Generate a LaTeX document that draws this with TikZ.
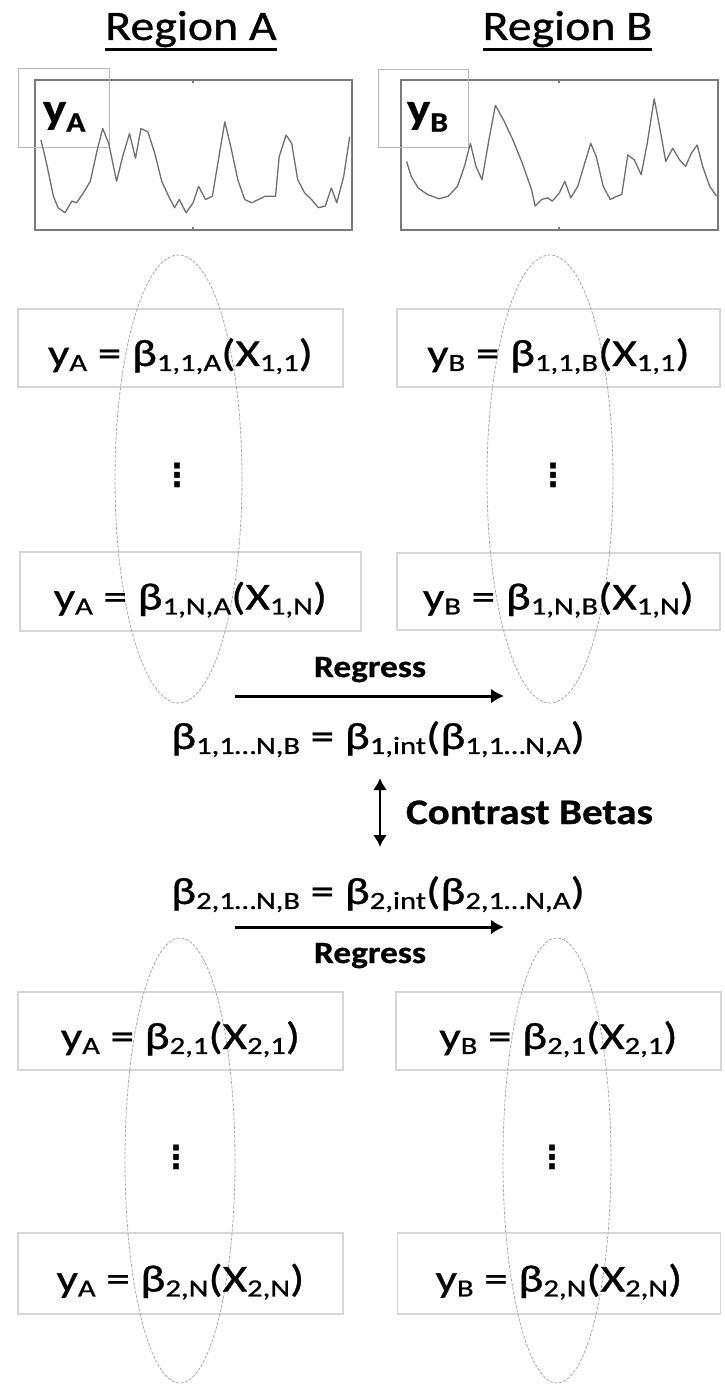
\documentclass[tikz,border=0pt]{standalone}
\usepackage{fontspec}
\usepackage{graphicx}
\setmainfont{Carlito}[FakeStretch=1.14,FakeBold=0.8]
\newfontfamily\eqfont{Carlito}[FakeStretch=1.24,FakeBold=0.8]
\newfontfamily\dotfont{DejaVu Sans}
\usetikzlibrary{arrows.meta,shapes.geometric}
\newcommand\sbs[1]{\raisebox{-0.13em}{\scalebox{0.65}{#1}}}
\definecolor{boxgray}{HTML}{D6D6D6}
\definecolor{ellgray}{HTML}{A8A8A8}
\definecolor{plotgray}{HTML}{7A7A7A}
\definecolor{curvegray}{HTML}{6E6E6E}
\definecolor{labgray}{HTML}{B8B8B8}
\begin{document}
\begin{tikzpicture}[x=1pt,y=-1pt,
  every node/.style={inner sep=0pt,outer sep=0pt},
  eqbox/.style={draw=boxgray,line width=1.2pt,rectangle},
  eqtxt/.style={anchor=base,font=\eqfont\fontsize{38}{41}\selectfont},
  ellbox/.style={draw=ellgray,line width=0.8pt,dash pattern=on 3pt off 1.5pt,ellipse},
  plotbox/.style={draw=plotgray,line width=1.5pt,rectangle},
  labbox/.style={draw=labgray,line width=0.8pt,rectangle},
  plotline/.style={draw=curvegray,line width=1.3pt,line join=round},
  regtxt/.style={anchor=base,font=\bfseries\fontsize{31}{34}\selectfont},
  headtxt/.style={anchor=base,font=\fontsize{42}{46}\selectfont},
  dotstxt/.style={font=\dotfont\bfseries\fontsize{32}{34}\selectfont},
  arr/.style={line width=3pt,-{Latex[length=13pt,width=15pt]}},
  darr/.style={line width=2.6pt,{Latex[length=12pt,width=14pt]}-{Latex[length=12pt,width=14pt]}}
]
\useasboundingbox (0,0) rectangle (725,1386);

% headings
\node[headtxt] (rA) at (191,40) {Region A};
\node[headtxt] (rB) at (567.5,40) {Region B};
\draw[line width=2.4pt] ([yshift=-9.5pt]rA.base west) -- ([yshift=-9.5pt]rA.base east);
\draw[line width=2.4pt] ([yshift=-9.5pt]rB.base west) -- ([yshift=-9.5pt]rB.base east);

% plots
\node[plotbox,minimum width=317pt,minimum height=150pt] (pA) at (193.5,155) {};
\node[plotbox,minimum width=317pt,minimum height=150pt] (pB) at (559.5,155) {};
\draw[plotgray,line width=1.5pt] (193,80) -- (193,83) (193,230) -- (193,227);
\draw[plotgray,line width=1.5pt] (559,80) -- (559,83) (559,230) -- (559,227);
\node[labbox,minimum width=91pt,minimum height=79pt] (lA) at (63.5,107.5) {};
\node[labbox,minimum width=90pt,minimum height=78pt] (lB) at (423,108) {};
\node[anchor=base west,font=\bfseries\fontsize{43}{46}\selectfont] (yA) at (43,123) {y\raisebox{-0.2em}{\scalebox{0.65}{A}}};
\node[anchor=base west,font=\bfseries\fontsize{43}{46}\selectfont] (yB) at (407,123) {y\raisebox{-0.2em}{\scalebox{0.65}{B}}};

\draw[plotline] plot coordinates {(41.0,140.1) (46.5,163.2) (53.4,196.2) (58.0,207.7) (65.0,212.7) (71.9,201.1) (76.5,202.8) (83.4,192.9) (90.3,181.3) (97.2,150.0) (102.7,128.5) (108.7,143.4) (116.6,181.3) (122.6,156.6) (129.5,133.5) (135.5,158.2) (141.0,128.5) (147.9,131.8) (154.8,153.3) (161.7,181.3) (168.6,196.2) (174.6,207.7) (179.2,199.5) (186.1,212.7) (193.1,202.8) (198.6,186.3) (205.5,199.5) (212.4,196.2) (218.4,159.9) (224.8,121.9) (230.8,146.7) (237.8,179.7) (244.7,199.5) (251.6,202.8) (258.5,199.5) (265.4,196.2) (275.5,196.2) (279.2,156.6) (286.1,135.1) (291.7,143.4) (297.7,179.7) (304.6,192.9) (311.5,199.5) (318.4,207.7) (325.3,206.1) (331.3,187.9) (336.8,202.8) (343.7,176.4) (349.7,136.8)};

\draw[plotline] plot coordinates {(406.6,161.5) (411.2,176.4) (418.1,187.9) (427.4,194.5) (439.0,198.8) (448.2,196.2) (457.5,186.3) (464.4,166.5) (470.4,143.4) (476.0,166.5) (482.0,179.7) (488.9,140.1) (495.4,105.4) (503.7,120.3) (513.0,140.1) (522.3,163.2) (531.5,189.6) (535.2,206.1) (541.7,199.5) (547.7,197.8) (552.3,201.1) (559.3,192.9) (564.8,181.3) (570.8,197.8) (577.8,186.3) (584.7,163.2) (590.7,143.4) (596.3,156.6) (603.2,186.3) (610.2,199.5) (617.1,196.2) (621.8,194.5) (627.8,154.9) (634.3,159.9) (641.2,174.7) (647.2,143.4) (654.2,98.8) (660.2,130.2) (665.7,161.5) (672.7,148.3) (679.6,159.9) (685.6,166.5) (691.2,153.3) (697.2,145.0) (702.7,166.5) (709.7,186.3) (716.6,196.2)};

% equation boxes, upper
\node[eqbox,minimum width=325pt,minimum height=78pt] (bA1) at (180.5,348) {};
\node[eqbox,minimum width=341pt,minimum height=79pt] (bAN) at (190.5,591.5) {};
\node[eqbox,minimum width=323pt,minimum height=78pt] (bB1) at (558.5,348) {};
\node[eqbox,minimum width=323pt,minimum height=77pt] (bBN) at (558.5,591.5) {};
% equation boxes, lower
\node[eqbox,minimum width=325pt,minimum height=78pt] (cA1) at (180.5,1031) {};
\node[eqbox,minimum width=325pt,minimum height=81pt] (cAN) at (180.5,1273.5) {};
\node[eqbox,minimum width=325pt,minimum height=78pt] (cB1) at (558.5,1031) {};
\node[eqbox,minimum width=323pt,minimum height=81pt] (cBN) at (559,1273.5) {};

% ellipses
\node[ellbox,minimum width=127pt,minimum height=448pt] (eA1) at (178.5,479) {};
\node[ellbox,minimum width=126pt,minimum height=448pt] (eB1) at (550,479) {};
\node[ellbox,minimum width=110pt,minimum height=445pt] (eA2) at (180,1160.5) {};
\node[ellbox,minimum width=108pt,minimum height=445pt] (eB2) at (557,1160.5) {};

% equation texts
\node[eqtxt] (tA1) at ([yshift=-18pt]bA1.center) {y\sbs{A} = β\sbs{1,1,A}(X\sbs{1,1})};
\node[eqtxt] (tAN) at ([yshift=-18pt]bAN.center) {y\sbs{A} = β\sbs{1,N,A}(X\sbs{1,N})};
\node[eqtxt] (tB1) at ([yshift=-18pt]bB1.center) {y\sbs{B} = β\sbs{1,1,B}(X\sbs{1,1})};
\node[eqtxt] (tBN) at ([yshift=-18pt]bBN.center) {y\sbs{B} = β\sbs{1,N,B}(X\sbs{1,N})};
\node[eqtxt] (uA1) at ([yshift=-18pt]cA1.center) {y\sbs{A} = β\sbs{2,1}(X\sbs{2,1})};
\node[eqtxt] (uAN) at ([yshift=-18pt]cAN.center) {y\sbs{A} = β\sbs{2,N}(X\sbs{2,N})};
\node[eqtxt] (uB1) at ([yshift=-18pt]cB1.center) {y\sbs{B} = β\sbs{2,1}(X\sbs{2,1})};
\node[eqtxt] (uBN) at ([yshift=-18pt]cBN.center) {y\sbs{B} = β\sbs{2,N}(X\sbs{2,N})};

% vertical dots
\node[dotstxt] (dA1) at (177,475) {⋮};
\node[dotstxt] (dB1) at (553,475) {⋮};
\node[dotstxt] (dA2) at (176,1157) {⋮};
\node[dotstxt] (dB2) at (552,1157) {⋮};

% middle
\node[regtxt] (reg1) at (370,677) {Regress};
\coordinate (r1s) at (235,696);
\coordinate (r1e) at (504,696);
\draw[arr] (r1s) -- (r1e);
\node[eqtxt] (beta1) at (378,749) {β\sbs{1,1…N,B} = β\sbs{1,int}(β\sbs{1,1…N,A})};
\coordinate (c1) at (380,778);
\coordinate (c2) at (380,847);
\draw[darr] (c1) -- (c2);
\node[anchor=base west,font=\bfseries\fontsize{36}{40}\selectfont] (contrast) at (406,824) {Contrast Betas};
\node[eqtxt] (beta2) at (378,904) {β\sbs{2,1…N,B} = β\sbs{2,int}(β\sbs{2,1…N,A})};
\coordinate (r2s) at (235,927);
\coordinate (r2e) at (504,927);
\draw[arr] (r2s) -- (r2e);
\node[regtxt] (reg2) at (370,963) {Regress};
\end{tikzpicture}
\end{document}
